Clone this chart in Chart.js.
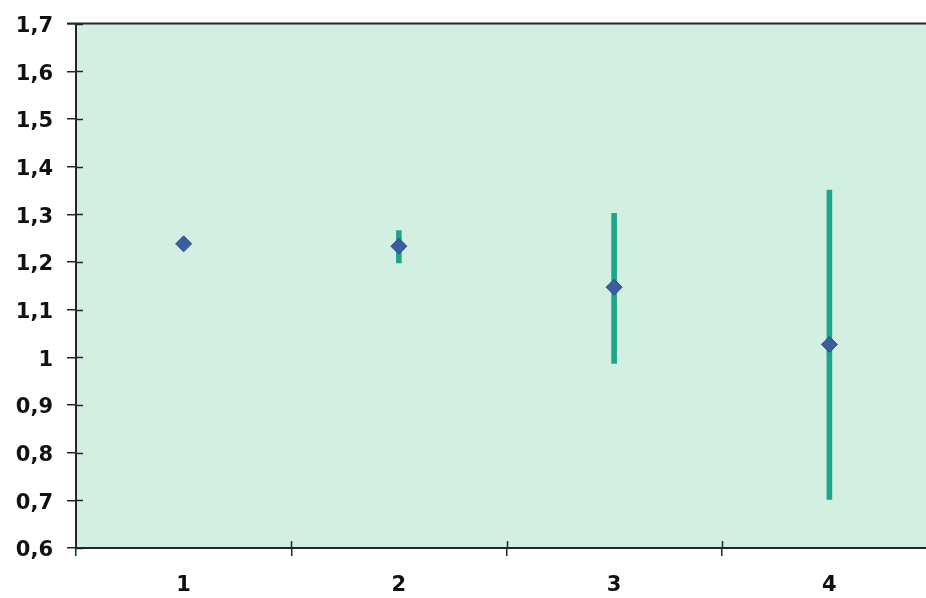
<!DOCTYPE html>
<html>
<head>
<meta charset="utf-8">
<script src="https://cdn.jsdelivr.net/npm/chart.js@4/dist/chart.umd.min.js"></script>
<style>
  html, body { margin: 0; padding: 0; background: #ffffff; overflow: hidden; width: 926px; height: 598px; }
  #wrap { position: relative; width: 926px; height: 598px; overflow: hidden; }
  #c { position: absolute; left: 0; top: -3px; display: block; }
</style>
</head>
<body>
<div id="wrap"><canvas id="c" width="946" height="601"></canvas></div>
<script>
// Categories along the x axis
const categories = ['1', '2', '3', '4'];
// Mean value for each category
const means = [1.238, 1.233, 1.147, 1.027];
// Lower and upper ends of each error bar
const lows  = [1.238, 1.198, 0.987, 0.702];
const highs = [1.238, 1.266, 1.302, 1.351];
// Value axis range and step
const yMin = 0.6, yMax = 1.7, yStep = 0.1;

const fmt = v => String(Math.round(v * 10) / 10).replace('.', ',');

// Mint plot background, top border and inward half of each tick mark
const plotDecor = {
  id: 'plotDecor',
  beforeDraw(chart) {
    const { ctx, chartArea: a } = chart;
    ctx.save();
    ctx.fillStyle = '#d3efe2';
    ctx.fillRect(a.left, a.top, a.right - a.left, a.bottom - a.top);
    ctx.restore();
  },
  afterDraw(chart) {
    const { ctx, chartArea: a, scales } = chart;
    ctx.save();
    ctx.strokeStyle = '#1d2a24';
    ctx.lineWidth = 2;
    ctx.beginPath();
    ctx.moveTo(a.left - 9, a.top);
    ctx.lineTo(a.right, a.top);
    ctx.stroke();
    ctx.lineWidth = 1.5;
    ctx.beginPath();
    scales.y.ticks.forEach(t => {
      const y = Math.round(scales.y.getPixelForValue(t.value)) + 0.5;
      ctx.moveTo(a.left, y);
      ctx.lineTo(a.left + 7, y);
    });
    for (let i = 1; i < categories.length; i++) {
      const x = Math.round((scales.x.getPixelForValue(i - 1) + scales.x.getPixelForValue(i)) / 2) + 0.5;
      ctx.moveTo(x, a.bottom);
      ctx.lineTo(x, a.bottom - 7);
    }
    ctx.stroke();
    ctx.restore();
  }
};

new Chart(document.getElementById('c'), {
  data: {
    labels: categories,
    datasets: [
      {
        type: 'bar',
        data: categories.map((_, i) => [lows[i], highs[i]]),
        backgroundColor: '#1fa68a',
        borderWidth: 0,
        barThickness: 5,
        order: 2
      },
      {
        type: 'line',
        data: means,
        showLine: false,
        pointStyle: 'rectRot',
        pointRadius: 8,
        pointBackgroundColor: '#3a5e9e',
        pointBorderColor: '#2f4d8e',
        pointBorderWidth: 1,
        order: 1
      }
    ]
  },
  plugins: [plotDecor],
  options: {
    responsive: false,
    animation: false,
    devicePixelRatio: 1,
    layout: { padding: { top: 19, right: 1, left: 0, bottom: 0 } },
    plugins: { legend: { display: false }, tooltip: { enabled: false } },
    scales: {
      x: {
        type: 'category',
        offset: true,
        grid: {
          offset: true,
          drawOnChartArea: false,
          drawTicks: true,
          tickLength: 8,
          color: '#1d2a24',
          lineWidth: 1.5
        },
        border: { display: true, color: '#1d2a24', width: 2 },
        ticks: {
          color: '#111111',
          font: { family: 'DejaVu Sans', size: 21, weight: 'bold' },
          padding: 17
        },
        afterFit(s) { s.height = 50; }
      },
      y: {
        min: yMin,
        max: yMax,
        grid: {
          drawOnChartArea: false,
          drawTicks: true,
          tickLength: 9,
          color: '#1d2a24',
          lineWidth: 1.5
        },
        border: { display: true, color: '#1d2a24', width: 2 },
        ticks: {
          stepSize: yStep,
          color: '#111111',
          font: { family: 'DejaVu Sans', size: 21, weight: 'bold' },
          padding: 14,
          labelOffset: 3,
          callback: v => fmt(v)
        },
        afterFit(s) { s.width = 76; }
      }
    }
  }
});
</script>
</body>
</html>
